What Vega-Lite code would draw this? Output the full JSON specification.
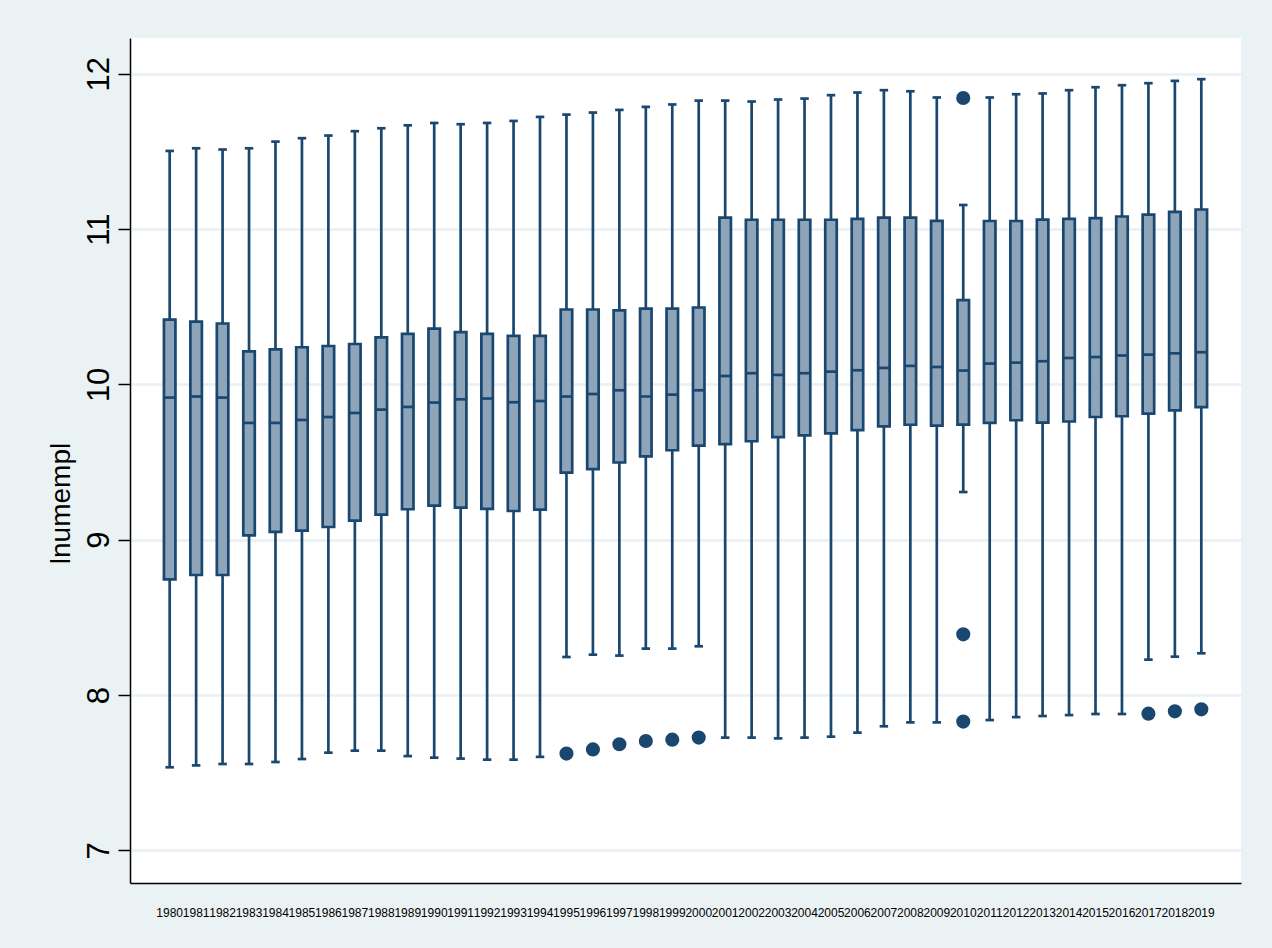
{
  "$schema": "https://vega.github.io/schema/vega-lite/v6.json",
  "width": 1111,
  "height": 845,
  "autosize": {"type": "none"},
  "padding": {"left": 130, "top": 38, "right": 31, "bottom": 65},
  "background": "#eaf2f3",
  "config": {
    "view": {"stroke": null, "fill": "#ffffff"},
    "font": "Liberation Sans"
  },
  "datasets": {
    "boxes": [
      {"year": "1980", "lower": 7.535, "q1": 8.745, "median": 9.915, "q3": 10.417, "upper": 11.503},
      {"year": "1981", "lower": 7.547, "q1": 8.773, "median": 9.922, "q3": 10.404, "upper": 11.520},
      {"year": "1982", "lower": 7.556, "q1": 8.773, "median": 9.915, "q3": 10.392, "upper": 11.512},
      {"year": "1983", "lower": 7.556, "q1": 9.028, "median": 9.752, "q3": 10.213, "upper": 11.520},
      {"year": "1984", "lower": 7.569, "q1": 9.050, "median": 9.752, "q3": 10.226, "upper": 11.563},
      {"year": "1985", "lower": 7.588, "q1": 9.059, "median": 9.771, "q3": 10.239, "upper": 11.585},
      {"year": "1986", "lower": 7.629, "q1": 9.082, "median": 9.790, "q3": 10.247, "upper": 11.602},
      {"year": "1987", "lower": 7.642, "q1": 9.123, "median": 9.816, "q3": 10.260, "upper": 11.630},
      {"year": "1988", "lower": 7.642, "q1": 9.162, "median": 9.838, "q3": 10.303, "upper": 11.649},
      {"year": "1989", "lower": 7.607, "q1": 9.196, "median": 9.855, "q3": 10.325, "upper": 11.668},
      {"year": "1990", "lower": 7.597, "q1": 9.220, "median": 9.883, "q3": 10.359, "upper": 11.683},
      {"year": "1991", "lower": 7.591, "q1": 9.207, "median": 9.904, "q3": 10.337, "upper": 11.675},
      {"year": "1992", "lower": 7.584, "q1": 9.198, "median": 9.909, "q3": 10.325, "upper": 11.683},
      {"year": "1993", "lower": 7.584, "q1": 9.185, "median": 9.885, "q3": 10.312, "upper": 11.696},
      {"year": "1994", "lower": 7.602, "q1": 9.194, "median": 9.893, "q3": 10.312, "upper": 11.722},
      {"year": "1995", "lower": 8.245, "q1": 9.432, "median": 9.922, "q3": 10.482, "upper": 11.737},
      {"year": "1996", "lower": 8.260, "q1": 9.455, "median": 9.938, "q3": 10.482, "upper": 11.750},
      {"year": "1997", "lower": 8.254, "q1": 9.497, "median": 9.962, "q3": 10.477, "upper": 11.767},
      {"year": "1998", "lower": 8.299, "q1": 9.537, "median": 9.922, "q3": 10.488, "upper": 11.786},
      {"year": "1999", "lower": 8.299, "q1": 9.576, "median": 9.934, "q3": 10.488, "upper": 11.802},
      {"year": "2000", "lower": 8.314, "q1": 9.606, "median": 9.962, "q3": 10.495, "upper": 11.827},
      {"year": "2001", "lower": 7.726, "q1": 9.616, "median": 10.054, "q3": 11.073, "upper": 11.827},
      {"year": "2002", "lower": 7.726, "q1": 9.634, "median": 10.072, "q3": 11.060, "upper": 11.821},
      {"year": "2003", "lower": 7.721, "q1": 9.661, "median": 10.061, "q3": 11.060, "upper": 11.834},
      {"year": "2004", "lower": 7.726, "q1": 9.672, "median": 10.072, "q3": 11.060, "upper": 11.840},
      {"year": "2005", "lower": 7.732, "q1": 9.685, "median": 10.082, "q3": 11.060, "upper": 11.862},
      {"year": "2006", "lower": 7.758, "q1": 9.706, "median": 10.091, "q3": 11.066, "upper": 11.879},
      {"year": "2007", "lower": 7.799, "q1": 9.730, "median": 10.106, "q3": 11.073, "upper": 11.894},
      {"year": "2008", "lower": 7.824, "q1": 9.740, "median": 10.119, "q3": 11.074, "upper": 11.887},
      {"year": "2009", "lower": 7.824, "q1": 9.734, "median": 10.112, "q3": 11.053, "upper": 11.847},
      {"year": "2010", "lower": 9.307, "q1": 9.741, "median": 10.089, "q3": 10.542, "upper": 11.155},
      {"year": "2011", "lower": 7.839, "q1": 9.752, "median": 10.134, "q3": 11.052, "upper": 11.847},
      {"year": "2012", "lower": 7.858, "q1": 9.769, "median": 10.140, "q3": 11.052, "upper": 11.868},
      {"year": "2013", "lower": 7.865, "q1": 9.754, "median": 10.149, "q3": 11.061, "upper": 11.873},
      {"year": "2014", "lower": 7.871, "q1": 9.761, "median": 10.170, "q3": 11.065, "upper": 11.894},
      {"year": "2015", "lower": 7.878, "q1": 9.790, "median": 10.176, "q3": 11.071, "upper": 11.913},
      {"year": "2016", "lower": 7.878, "q1": 9.795, "median": 10.186, "q3": 11.081, "upper": 11.926},
      {"year": "2017", "lower": 8.228, "q1": 9.812, "median": 10.192, "q3": 11.093, "upper": 11.939},
      {"year": "2018", "lower": 8.247, "q1": 9.833, "median": 10.200, "q3": 11.110, "upper": 11.954},
      {"year": "2019", "lower": 8.269, "q1": 9.853, "median": 10.207, "q3": 11.126, "upper": 11.965}
    ],
    "outliers": [
      {"year": "1995", "value": 7.623},
      {"year": "1996", "value": 7.650},
      {"year": "1997", "value": 7.683},
      {"year": "1998", "value": 7.704},
      {"year": "1999", "value": 7.713},
      {"year": "2000", "value": 7.726},
      {"year": "2010", "value": 11.844},
      {"year": "2010", "value": 8.391},
      {"year": "2010", "value": 7.829},
      {"year": "2017", "value": 7.880},
      {"year": "2018", "value": 7.895},
      {"year": "2019", "value": 7.908}
    ]
  },
  "encoding": {
    "x": {
      "field": "year",
      "type": "nominal",
      "sort": "ascending",
      "scale": {"type": "band", "paddingInner": 0, "paddingOuter": 1},
      "axis": {
        "title": null,
        "labelAngle": 0,
        "labelFontSize": 12,
        "labelFont": "Liberation Sans",
        "labelColor": "#000000",
        "labelPadding": 24,
        "ticks": false,
        "grid": false,
        "domainColor": "#000000",
        "domainWidth": 1.5,
        "labelOverlap": false
      }
    }
  },
  "layer": [
    {
      "data": {"name": "boxes"},
      "mark": {"type": "rule", "color": "#1a476f", "strokeWidth": 2.7},
      "encoding": {
        "y": {
          "field": "lower",
          "type": "quantitative",
          "scale": {"domain": [6.79, 12.23], "nice": false, "zero": false},
          "axis": {
            "title": "lnumempl",
            "titleFontSize": 28,
            "titleFont": "Liberation Sans",
            "titleFontWeight": "normal",
            "titleColor": "#000000",
            "titleAngle": -90,
            "titleAlign": "center",
            "titleBaseline": "alphabetic",
            "titleX": -61,
            "titleY": 465,
            "values": [7, 8, 9, 10, 11, 12],
            "format": "d",
            "labelFontSize": 31,
            "labelFont": "Liberation Sans",
            "labelColor": "#000000",
            "labelAngle": -90,
            "labelAlign": "center",
            "labelBaseline": "bottom",
            "labelPadding": 3,
            "tickSize": 12,
            "tickColor": "#000000",
            "tickWidth": 1.5,
            "domainColor": "#000000",
            "domainWidth": 1.5,
            "grid": true,
            "gridColor": "#e8f0f2",
            "gridWidth": 2.5
          }
        },
        "y2": {"field": "upper"}
      }
    },
    {
      "data": {"name": "boxes"},
      "mark": {"type": "bar", "fill": "#8ea4b9", "stroke": "#1a476f", "strokeWidth": 2.7, "size": 11.5},
      "encoding": {
        "y": {"field": "q1", "type": "quantitative"},
        "y2": {"field": "q3"}
      }
    },
    {
      "data": {"name": "boxes"},
      "mark": {"type": "tick", "color": "#1a476f", "thickness": 2.7, "size": 12, "opacity": 1},
      "encoding": {
        "y": {"field": "median", "type": "quantitative"}
      }
    },
    {
      "data": {"name": "boxes"},
      "mark": {"type": "tick", "color": "#1a476f", "thickness": 2.7, "size": 8.5, "opacity": 1},
      "encoding": {
        "y": {"field": "lower", "type": "quantitative"}
      }
    },
    {
      "data": {"name": "boxes"},
      "mark": {"type": "tick", "color": "#1a476f", "thickness": 2.7, "size": 8.5, "opacity": 1},
      "encoding": {
        "y": {"field": "upper", "type": "quantitative"}
      }
    },
    {
      "data": {"name": "outliers"},
      "mark": {"type": "point", "filled": true, "color": "#1a476f", "opacity": 1, "size": 200},
      "encoding": {
        "y": {"field": "value", "type": "quantitative"}
      }
    }
  ]
}
